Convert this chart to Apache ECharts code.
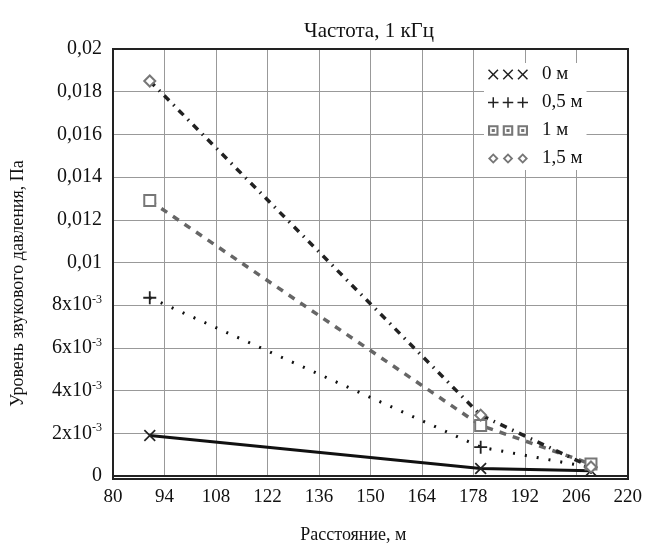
<!DOCTYPE html>
<html>
<head>
<meta charset="utf-8">
<script src="https://cdn.jsdelivr.net/npm/echarts@6/dist/echarts.min.js"></script>
<style>html,body{margin:0;padding:0;background:#fff}#c{width:645px;height:549px}</style>
</head>
<body>
<div id="c"></div>
<script>
// ---- data ----
const distances = [90, 180, 210];
const seriesNames = ['0 м', '0,5 м', '1 м', '1,5 м'];
const level0 = [0.0019, 0.00035, 0.00025];
const level05 = [0.00835, 0.00135, 0.0004];
const level1 = [0.0129, 0.00237, 0.00056];
const level15 = [0.0185, 0.00285, 0.00042];
const xTicks = [80, 94, 108, 122, 136, 150, 164, 178, 192, 206, 220];
const yTickLabels = ['0', '2x10{s|-3}', '4x10{s|-3}', '6x10{s|-3}', '8x10{s|-3}', '0,01', '0,012', '0,014', '0,016', '0,018', '0,02'];

const FONT = '"Liberation Serif", "DejaVu Serif", serif';

// marker paths
const xPath = 'path://M0,1 L1,0 L5,4 L9,0 L10,1 L6,5 L10,9 L9,10 L5,6 L1,10 L0,9 L4,5 Z';
const plusPath = 'path://M4.3,0 H5.7 V4.3 H10 V5.7 H5.7 V10 H4.3 V5.7 H0 V4.3 H4.3 Z';

function repeat3(fn) { return 'path://' + [0, 14, 28].map(fn).join(' '); }
const legendIcons = [
  repeat3(o => `M${o},1 L${o+1},0 L${o+5},4 L${o+9},0 L${o+10},1 L${o+6},5 L${o+10},9 L${o+9},10 L${o+5},6 L${o+1},10 L${o},9 L${o+4},5 Z`),
  repeat3(o => `M${o+4.3},0 H${o+5.7} V4.3 H${o+10} V5.7 H${o+5.7} V10 H${o+4.3} V5.7 H${o} V4.3 H${o+4.3} Z`),
  repeat3(o => `M${o},0 H${o+10} V10 H${o} Z M${o+2},2 V8 H${o+8} V2 Z M${o+3.5},3.5 H${o+6.5} V6.5 H${o+3.5} Z`),
  repeat3(o => `M${o+5},0 L${o+10},5 L${o+5},10 L${o},5 Z M${o+5},2.5 L${o+2.5},5 L${o+5},7.5 L${o+7.5},5 Z`)
];

const chart = echarts.init(document.getElementById('c'), null, {renderer: 'canvas'});

function mk(name, data, line, symbol, color, symSize, itemStyle) {
  return {
    name, type: 'line', data: distances.map((d, i) => [d, data[i]]),
    symbol, symbolSize: symSize, showSymbol: true,
    lineStyle: line, itemStyle: Object.assign({color}, itemStyle || {}),
    z: 3, animation: false
  };
}

chart.setOption({
  animation: false,
  backgroundColor: '#fff',
  title: {
    text: 'Частота, 1 кГц', left: 364, top: 16, textAlign: 'center',
    textStyle: {fontFamily: FONT, fontSize: 21, fontWeight: 'normal', color: '#111'}
  },
  grid: {left: 113, right: 17, top: 49, bottom: 70, containLabel: false},
  legend: {
    orient: 'vertical', left: 484, top: 63, itemWidth: 40, itemHeight: 11, itemGap: 9,
    backgroundColor: '#fff', padding: [2, 4, 2, 4],
    textStyle: {fontFamily: FONT, fontSize: 19, color: '#111', padding: [0, 0, 0, 9]},
    data: seriesNames.map((n, i) => ({name: n, icon: legendIcons[i], itemStyle: {color: ['#222','#222','#777','#777'][i], borderWidth: 0}}))
  },
  xAxis: {
    type: 'value', min: 80, max: 220, interval: 14,
    name: 'Расстояние, м', nameLocation: 'middle', nameGap: 50,
    nameTextStyle: {fontFamily: FONT, fontSize: 18, color: '#111', padding: [0, 34, 0, 0]},
    axisLine: {show: true, onZero: false, lineStyle: {color: '#222', width: 2}},
    axisTick: {show: false},
    axisLabel: {fontFamily: FONT, fontSize: 19, color: '#111', margin: 12},
    splitLine: {show: true, lineStyle: {color: '#999', width: 1}}
  },
  yAxis: {
    type: 'value', min: 0, max: 0.02, interval: 0.002,
    name: 'Уровень звукового давления, Па', nameLocation: 'middle', nameGap: 86,
    nameTextStyle: {fontFamily: FONT, fontSize: 18, color: '#111', padding: [0, 42, 0, 0]},
    axisLine: {show: true, lineStyle: {color: '#222', width: 2}},
    axisTick: {show: false},
    axisLabel: {
      fontFamily: FONT, fontSize: 20, color: '#111', margin: 11,
      formatter: (v) => yTickLabels[Math.round(v / 0.002)],
      rich: {s: {fontFamily: FONT, fontSize: 12, color: '#111', verticalAlign: 'top', padding: [0, 0, 10, 0]}}
    },
    splitLine: {show: true, lineStyle: {color: '#999', width: 1}}
  },
  graphic: [{
    type: 'rect', shape: {x: 113, y: 49, width: 515, height: 430},
    style: {fill: 'none', stroke: '#222', lineWidth: 2}, z: 10, silent: true
  }],
  series: [
    mk(seriesNames[0], level0, {color: '#111', width: 3, type: 'solid'}, xPath, '#222', 12),
    mk(seriesNames[1], level05, {color: '#111', width: 3, type: [2, 10]}, plusPath, '#222', 13),
    mk(seriesNames[2], level1, {color: '#666', width: 3.5, type: [7, 7]}, 'rect', '#fff', 11, {borderColor: '#777', borderWidth: 2}),
    mk(seriesNames[3], level15, {color: '#222', width: 3.5, type: [7, 6, 1.5, 6]}, 'diamond', '#fff', 11, {borderColor: '#777', borderWidth: 2})
  ]
});
</script>
</body>
</html>
